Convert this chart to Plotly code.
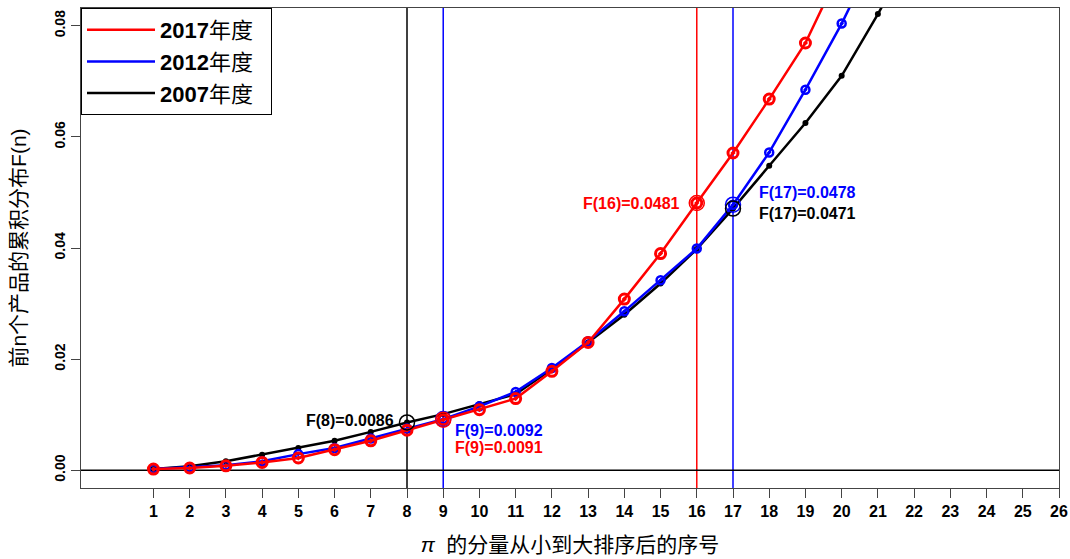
import plotly.graph_objects as go

# ---- data ----
idx_2017 = list(range(1, 21))
F_2017 = [0.0002, 0.0004, 0.0008, 0.0014, 0.0022, 0.0037, 0.0053, 0.0072, 0.0091, 0.0109,
          0.0129, 0.0178, 0.0230, 0.0308, 0.0390, 0.0481, 0.0571, 0.0668, 0.0769, 0.0906]
idx_2012 = list(range(1, 22))
F_2012 = [0.0002, 0.0005, 0.0009, 0.0016, 0.0029, 0.0040, 0.0057, 0.0075, 0.0092, 0.0115,
          0.0141, 0.0184, 0.0232, 0.0286, 0.0342, 0.0399, 0.0478, 0.0572, 0.0685, 0.0804, 0.0937]
idx_2007 = list(range(1, 23))
F_2007 = [0.0002, 0.0007, 0.0016, 0.0028, 0.0040, 0.0053, 0.0069, 0.0086, 0.0101, 0.0119,
          0.0137, 0.0182, 0.0230, 0.0280, 0.0336, 0.0398, 0.0471, 0.0548, 0.0625, 0.0710, 0.0821, 0.0940]

series_names = ["2017年度", "2012年度", "2007年度"]
series_colors = ["#ff0000", "#0000ff", "#000000"]

# highlighted points: (series index, n)
hl_points = [(2, 8), (1, 9), (0, 9), (0, 16), (1, 17), (2, 17)]
# vertical reference lines
vlines_x = [8, 9, 16, 17]
vlines_col = ["#000000", "#0000ff", "#ff0000", "#0000ff"]

# annotation labels: text, x, y, color, anchor
ann_text = ["F(8)=0.0086", "F(9)=0.0092", "F(9)=0.0091", "F(16)=0.0481", "F(17)=0.0478", "F(17)=0.0471"]
ann_x = [7.69, 9.26, 9.26, 15.59, 17.66, 17.66]
ann_y = [0.0089, 0.0071, 0.0041, 0.0481, 0.0500, 0.0462]
ann_col = ["#000000", "#0000ff", "#ff0000", "#ff0000", "#0000ff", "#000000"]
ann_anchor = ["right", "left", "left", "right", "left", "left"]

x_ticks = list(range(1, 27))
y_ticks = [0.0, 0.02, 0.04, 0.06, 0.08]
y_ticktext = ["0.00", "0.02", "0.04", "0.06", "0.08"]

FONT = "Liberation Sans, Arial, Noto Sans CJK SC, sans-serif"

fig = go.Figure()

xs = [idx_2017, idx_2012, idx_2007]
ys = [F_2017, F_2012, F_2007]

# draw black, blue, red (red on top)
marker_styles = {
    0: dict(symbol="circle-open-dot", size=10, color="#ff0000", line=dict(width=3, color="#ff0000")),
    1: dict(symbol="circle-open-dot", size=8, color="#0000ff", line=dict(width=2.5, color="#0000ff")),
    2: dict(symbol="circle", size=6, color="#000000"),
}
for i in [2, 1, 0]:
    fig.add_trace(go.Scatter(
        x=xs[i], y=ys[i], mode="lines+markers",
        line=dict(color=series_colors[i], width=2.5),
        marker=marker_styles[i], showlegend=False, hoverinfo="skip", cliponaxis=True,
    ))

# highlighted circles
for si, n in hl_points:
    fig.add_trace(go.Scatter(
        x=[n], y=[ys[si][xs[si].index(n)]], mode="markers",
        marker=dict(symbol="circle-open", size=15, color=series_colors[si],
                    line=dict(width=1.5, color=series_colors[si])),
        showlegend=False, hoverinfo="skip",
    ))

# legend-only traces
for i in range(3):
    yr, rest = series_names[i][:4], series_names[i][4:]
    fig.add_trace(go.Scatter(
        x=[None], y=[None], mode="lines",
        line=dict(color=series_colors[i], width=2.5),
        name=f"<b>{yr}</b>{rest}  ",
    ))

shapes = []
for xv, c in zip(vlines_x, vlines_col):
    shapes.append(dict(type="line", xref="x", yref="y domain", x0=xv, x1=xv, y0=0, y1=1,
                       line=dict(color=c, width=1.5), layer="below"))
shapes.append(dict(type="line", xref="x domain", yref="y", x0=0, x1=1, y0=0, y1=0,
                   line=dict(color="#000000", width=1.5), layer="below"))

annotations = []
for t, ax_, ay_, c, a in zip(ann_text, ann_x, ann_y, ann_col, ann_anchor):
    annotations.append(dict(x=ax_, y=ay_, xref="x", yref="y", text=f"<b>{t}</b>",
                            showarrow=False, xanchor=a, yanchor="middle",
                            font=dict(family=FONT, size=16, color=c)))

fig.update_layout(
    width=1070, height=559,
    margin=dict(l=81, r=11, t=8, b=71),
    paper_bgcolor="white", plot_bgcolor="white",
    font=dict(family=FONT, color="#000000"),
    shapes=shapes, annotations=annotations,
    showlegend=True,
    legend=dict(x=0, y=1, xanchor="left", yanchor="top", bgcolor="white",
                bordercolor="#000000", borderwidth=1,
                font=dict(family=FONT, size=22, color="#000000"),
                traceorder="normal", itemwidth=68,
                tracegroupgap=0),
    xaxis=dict(range=[-1, 26], tickmode="array", tickvals=x_ticks,
               ticktext=[f"<b>{v}</b>" for v in x_ticks],
               ticks="outside", ticklen=9, tickcolor="#444", tickwidth=1,
               showline=True, mirror=True, linecolor="#444", linewidth=1,
               showgrid=False, zeroline=False, automargin=False,
               tickfont=dict(family=FONT, size=16, color="#000"),
               title=dict(text="<i>π</i>  的分量从小到大排序后的序号",
                          font=dict(family=FONT, size=21, color="#000"), standoff=18)),
    yaxis=dict(range=[-0.0032, 0.0832], tickmode="array", tickvals=y_ticks,
               ticktext=[f"<b>{t}</b>" for t in y_ticktext], tickangle=-90,
               ticks="outside", ticklen=9, tickcolor="#444", tickwidth=1,
               showline=True, mirror=True, linecolor="#444", linewidth=1,
               showgrid=False, zeroline=False, automargin=False,
               tickfont=dict(family=FONT, size=14, color="#000"),
               title=dict(text="前n个产品的累积分布F(n)",
                          font=dict(family=FONT, size=21, color="#000"), standoff=20)),
)

fig.write_html("out.html")
